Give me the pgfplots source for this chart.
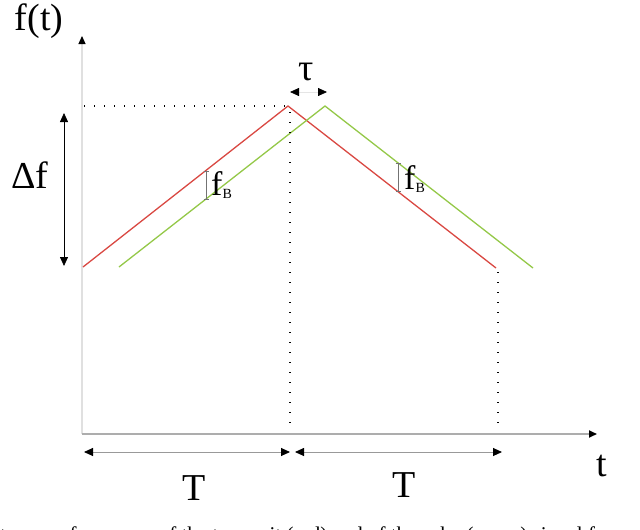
\documentclass[border=0pt]{standalone}
\usepackage{fontspec}
\setmainfont{Liberation Serif}
\usepackage{pgfplots}
\pgfplotsset{compat=1.18}
\usetikzlibrary{arrows.meta}

\definecolor{txred}{RGB}{217,72,66}
\definecolor{rxgreen}{RGB}{148,200,72}

% one unit = one pixel of the 640x530 reference
\begin{document}
\begin{tikzpicture}[
    lbl/.style={inner sep=0pt, font=\fontsize{38}{40}\selectfont},
    >={Triangle[length=9pt, width=8pt, color=black]}]
\useasboundingbox (0,0) rectangle (640pt,530pt);
\clip (0,0) rectangle (640pt,530pt);
\begin{axis}[at={(0,0)}, anchor=south west,
    scale only axis, width=640pt, height=530pt,
    xmin=0, xmax=640, ymin=0, ymax=530,
    y dir=reverse, hide axis, clip=false]

% axes
\draw[black!12, line width=1.2pt, -{Triangle[length=8pt, width=7pt, color=black]}]
    (axis cs:82,434) -- (axis cs:82,36);
\draw[black!32, line width=1.8pt, -{Triangle[length=8pt, width=7pt, color=black]}]
    (axis cs:82,434) -- (axis cs:597,434);

% transmit and echo chirps
\addplot[txred, line width=1.3pt] coordinates {(83,267) (288,106) (496,268)};
\addplot[rxgreen, line width=1.3pt] coordinates {(119,267) (325,106) (533,268)};

% dotted guides
\addplot[black, line width=1.4pt, dash pattern=on 1.4pt off 8.6pt]
    coordinates {(84,106) (288,106)};
\addplot[black, line width=1.4pt, dash pattern=on 1.4pt off 8.6pt]
    coordinates {(290,112) (290,430)};
\addplot[black, line width=1.4pt, dash pattern=on 1.4pt off 8.6pt]
    coordinates {(498,272) (498,430)};

% delta f
\draw[black, line width=0.8pt, <->] (axis cs:64,113) -- (axis cs:64,266);
\node[lbl] at (axis cs:30,175) {Δf};

% tau
\draw[black!10, line width=0.8pt, <->] (axis cs:290,92) -- (axis cs:327,92);
\node[lbl] at (axis cs:306,72) {τ};

% beat frequency markers
\draw[black!55, line width=0.8pt, {Bar[width=5pt]}-{Bar[width=5pt]}]
    (axis cs:206,171) -- (axis cs:206,200);
\node[lbl, anchor=west, font=\fontsize{34}{36}\selectfont] at (axis cs:211,185)
    {f\raisebox{-0.25ex}{\fontsize{14}{14}\selectfont B}};
\draw[black!55, line width=0.8pt, {Bar[width=5pt]}-{Bar[width=5pt]}]
    (axis cs:398,163) -- (axis cs:398,192);
\node[lbl, anchor=west, font=\fontsize{34}{36}\selectfont] at (axis cs:404,179)
    {f\raisebox{-0.25ex}{\fontsize{14}{14}\selectfont B}};

% periods
\draw[black!40, line width=0.9pt, <->] (axis cs:84,452) -- (axis cs:290,452);
\draw[black!40, line width=0.9pt, <->] (axis cs:295,452) -- (axis cs:502,452);
\node[lbl] at (axis cs:194,488) {T};
\node[lbl] at (axis cs:404,485) {T};

% axis labels
\node[lbl] at (axis cs:39,21) {f(t)};
\node[lbl] at (axis cs:602,466) {t};

% caption, cut off at the bottom edge as in the reference
\node[inner sep=0pt, anchor=base west, font=\fontsize{21}{24}\selectfont]
    at (axis cs:0,541)
    {\llap{Instan}taneous frequency of the transmit (red) and of the echo (green) signal for};
\end{axis}
\end{tikzpicture}
\end{document}
